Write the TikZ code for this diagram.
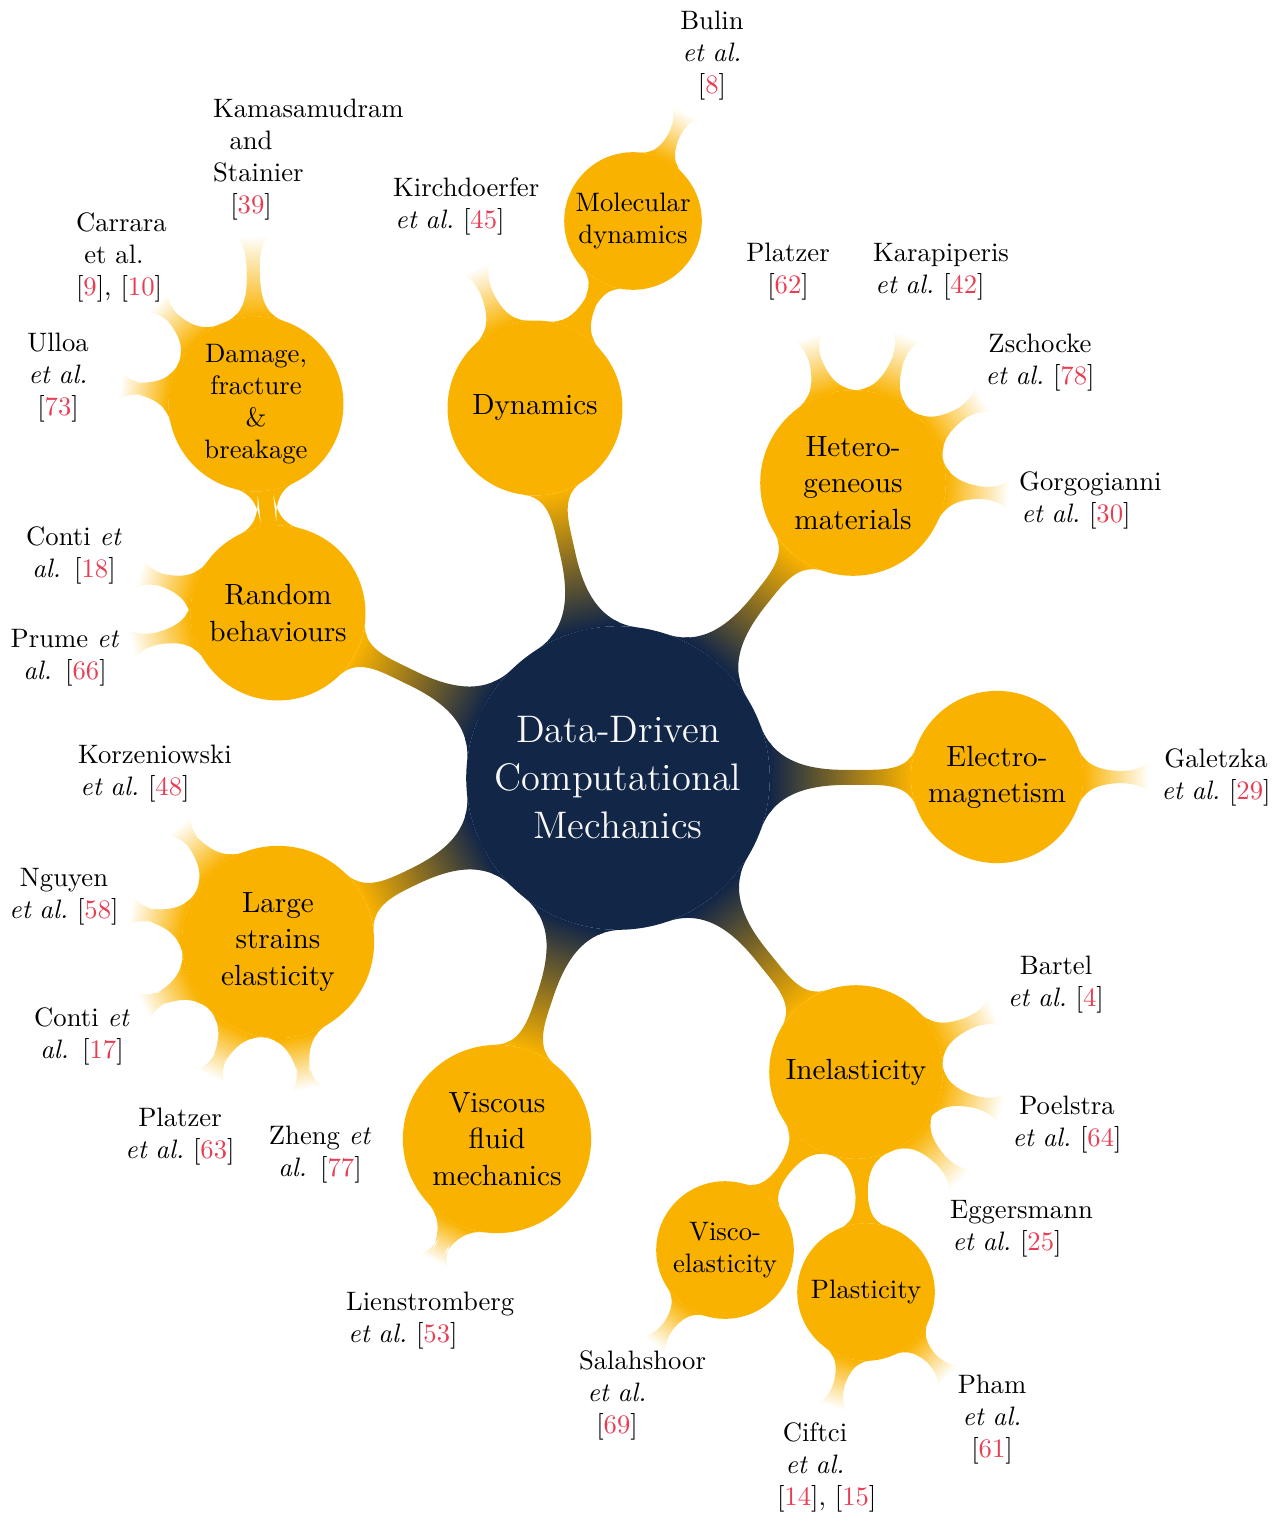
\documentclass[tikz,border=0pt]{standalone}
\usetikzlibrary{mindmap,backgrounds}
\definecolor{navy}{RGB}{18,38,72}
\definecolor{gold}{RGB}{249,178,0}
\definecolor{citered}{RGB}{232,62,84}
\newcommand{\rf}[1]{[\textcolor{citered}{#1}]}
\newcommand{\etal}{\textit{et al.}}
\hyphenpenalty=10000
\exhyphenpenalty=10000
\begin{document}
\begin{tikzpicture}[x=0.375pt,y=-0.375pt,
  rootc/.style={circle, fill=navy, draw=navy, line width=0.6pt, text=white!97!black, inner sep=0pt, minimum size=113.25pt, font=\Large, align=center},
  lone/.style={circle, fill=gold, draw=gold, line width=0.6pt, inner sep=0pt, font=\fontsize{10.95}{13.6}\selectfont, align=center},
  ltwo/.style={circle, fill=gold, draw=gold, line width=0.6pt, inner sep=0pt, minimum size=51pt, font=\normalsize, align=center},
  leafa/.style={circle, inner sep=1pt, text width=1.5cm, align=center, font=\normalsize},
  leafb/.style={circle, inner sep=1pt, text width=1cm, align=center, font=\normalsize},
  nb/.style={circle connection bar switch color=from (navy) to (gold)},
  gb/.style={circle connection bar switch color=from (gold) to (gold)},
  wb/.style={circle connection bar switch color=from (gold) to (white)},
]
\useasboundingbox (0,0) rectangle (1286,1515);
% concepts
\node[rootc] (root) at (618,778) {Data-Driven\\Computational\\Mechanics};
\node[lone, minimum size=65pt] (dyn) at (535,408) {Dynamics};
\node[ltwo] (mol) at (633,221) {Molecular\\dynamics};
\node[lone, minimum size=69pt] (het) at (853,483) {Hetero-\\geneous\\materials};
\node[lone, minimum size=64pt] (ele) at (997,777) {Electro-\\magnetism};
\node[lone, minimum size=64.5pt] (ine) at (856,1072) {Inelasticity};
\node[ltwo] (vel) at (725,1250) {Visco-\\elasticity};
\node[ltwo] (pla) at (866,1292) {Plasticity};
\node[lone, minimum size=70pt] (vfm) at (497,1139) {Viscous\\fluid\\mechanics};
\node[lone, minimum size=71.5pt] (lse) at (278,942) {Large\\strains\\elasticity};
\node[lone, minimum size=65pt] (ran) at (278,613) {Random\\behaviours};
\node[ltwo, minimum size=65pt] (dam) at (256,404) {Damage,\\fracture\\\&\\breakage};
% leaves
\node[leafb] (bul) at (712,56) {Bulin\\\etal\\\rf{8}};
\node[leafb] (kam) at (251,160) {Kamasamudram\\and\\Stainier\\\rf{39}};
\node[leafb] (car) at (114,257) {Carrara\\et al.\\\mbox{\rf{9}, \rf{10}}};
\node[leafb] (ull) at (58,378) {Ulloa\\\etal\\\rf{73}};
\node[leafa] (kir) at (450,206) {Kirchdoerfer\\\etal\ \rf{45}};
\node[leafa] (pl62) at (788,272) {Platzer\\\rf{62}};
\node[leafa] (kar) at (930,272) {Karapiperis\\\etal\ \rf{42}};
\node[leafa] (zsc) at (1040,363) {Zschocke\\\etal\ \rf{78}};
\node[leafa] (gor) at (1076,500) {Gorgogianni\\\etal\ \rf{30}};
\node[leafa] (gal) at (1216,777) {Galetzka\\\etal\ \rf{29}};
\node[leafa] (bar) at (1056,985) {Bartel\\\etal\ \rf{4}};
\node[leafa] (poe) at (1067,1125) {Poelstra\\\etal\ \rf{64}};
\node[leafa] (egg) at (1007,1229) {Eggersmann\\\etal\ \rf{25}};
\node[leafa] (lie) at (403,1321) {Lienstromberg\\\etal\ \rf{53}};
\node[leafa] (zhe) at (320,1155) {Zheng \textit{et}\\\textit{al.} \rf{77}};
\node[leafa] (pl63) at (180,1137) {Platzer\\\etal\ \rf{63}};
\node[leafa] (co17) at (82,1036) {Conti \textit{et}\\\textit{al.} \rf{17}};
\node[leafa] (ngu) at (64,897) {Nguyen\\\etal\ \rf{58}};
\node[leafa] (kor) at (135,774) {Korzeniowski\\\etal\ \rf{48}};
\node[leafa] (co18) at (74,555) {Conti \textit{et}\\\textit{al.} \rf{18}};
\node[leafa] (pru) at (65,658) {Prume \textit{et}\\\textit{al.} \rf{66}};
\node[leafb] (sal) at (617,1395) {Salahshoor\\\etal\\\rf{69}};
\node[leafb] (cif) at (815,1467) {Ciftci\\\etal\\\mbox{\rf{14}, \rf{15}}};
\node[leafb] (pha) at (992,1420) {Pham\\\etal\\\rf{61}};
% connections
\begin{pgfonlayer}{background}
\path (root) to[nb] (dyn);
\path (root) to[nb] (het);
\path (root) to[nb] (ele);
\path (root) to[nb] (ine);
\path (root) to[nb] (vfm);
\path (root) to[nb] (lse);
\path (root) to[nb] (ran);
\path (dyn) to[gb] (mol);
\path (ine) to[gb] (vel);
\path (ine) to[gb] (pla);
\path (ran) to[gb] (dam);
\path (mol) to[wb] (bul);
\path (dyn) to[wb] (kir);
\path (het) to[wb] (pl62);
\path (het) to[wb] (kar);
\path (het) to[wb] (zsc);
\path (het) to[wb] (gor);
\path (ele) to[wb] (gal);
\path (ine) to[wb] (bar);
\path (ine) to[wb] (poe);
\path (ine) to[wb] (egg);
\path (vel) to[wb] (sal);
\path (pla) to[wb] (cif);
\path (pla) to[wb] (pha);
\path (vfm) to[wb] (lie);
\path (lse) to[wb] (kor);
\path (lse) to[wb] (ngu);
\path (lse) to[wb] (co17);
\path (lse) to[wb] (pl63);
\path (lse) to[wb] (zhe);
\path (ran) to[wb] (co18);
\path (ran) to[wb] (pru);
\path (dam) to[wb] (ull);
\path (dam) to[wb] (car);
\path (dam) to[wb] (kam);
\end{pgfonlayer}
\end{tikzpicture}
\end{document}
